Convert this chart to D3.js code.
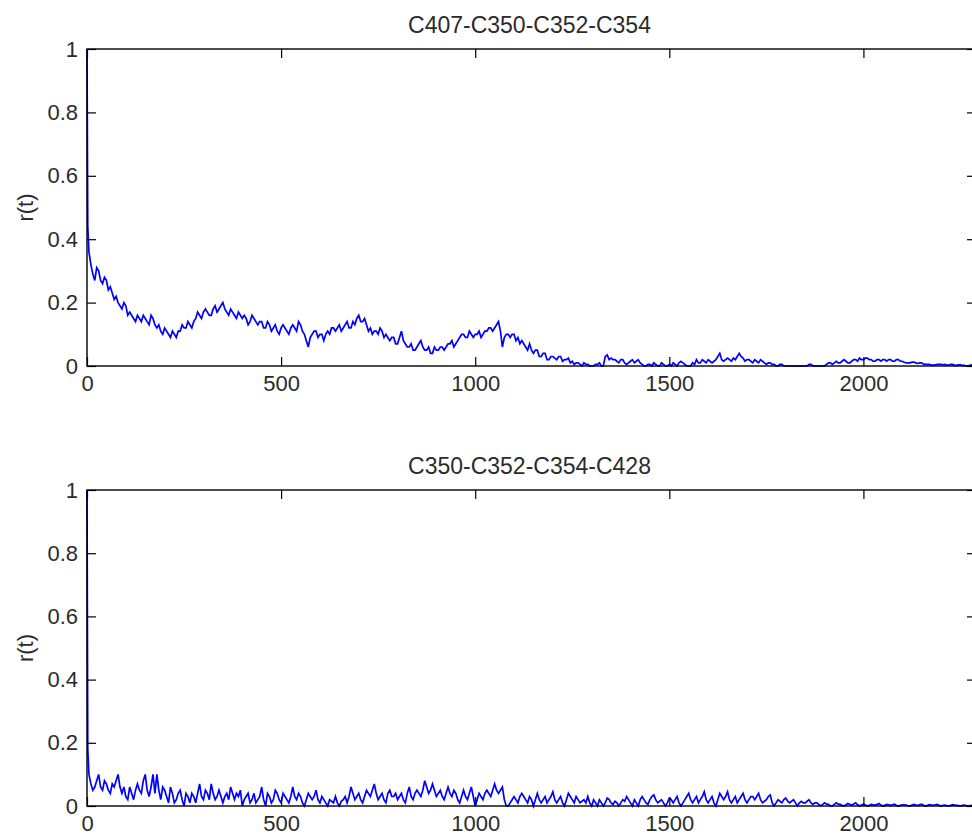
<!DOCTYPE html>
<html>
<head>
<meta charset="utf-8">
<script src="https://cdn.jsdelivr.net/npm/d3@7"></script>
<style>
  body { margin: 0; background: #fff; }
  svg { display: block; font-family: "Liberation Sans", Arial, sans-serif; }
</style>
</head>
<body>
<div id="chart"></div>
<script>
// titles and ticks
const titles = ['C407-C350-C352-C354', 'C350-C352-C354-C428'];
const xTicks = [0, 500, 1000, 1500, 2000];
const yTicks = [0, 0.2, 0.4, 0.6, 0.8, 1];

// first samples, then one value every 5 steps from t=5 to t=2280
const headT = [0, 2];
const headTop = [1.0, 0.44];
const headBottom = [1.0, 0.18];

// one row = 50 steps
const topValues = [
  0.36, 0.32, 0.29, 0.27, 0.31, 0.30, 0.27, 0.26, 0.28, 0.27,
  0.24, 0.25, 0.23, 0.21, 0.22, 0.20, 0.19, 0.18, 0.20, 0.19,
  0.16, 0.17, 0.16, 0.15, 0.14, 0.16, 0.15, 0.14, 0.16, 0.15,
  0.14, 0.13, 0.16, 0.15, 0.13, 0.12, 0.13, 0.11, 0.10, 0.12,
  0.11, 0.10, 0.09, 0.11, 0.10, 0.09, 0.11, 0.11, 0.13, 0.12,
  0.12, 0.14, 0.13, 0.12, 0.14, 0.15, 0.17, 0.16, 0.15, 0.17,
  0.18, 0.17, 0.16, 0.16, 0.18, 0.19, 0.17, 0.18, 0.19, 0.20,
  0.18, 0.17, 0.16, 0.18, 0.17, 0.16, 0.15, 0.17, 0.16, 0.15,
  0.16, 0.15, 0.13, 0.14, 0.16, 0.15, 0.14, 0.13, 0.14, 0.14,
  0.12, 0.12, 0.14, 0.13, 0.11, 0.12, 0.13, 0.11, 0.10, 0.12,
  0.13, 0.12, 0.11, 0.10, 0.12, 0.13, 0.12, 0.11, 0.14, 0.13,
  0.11, 0.10, 0.08, 0.06, 0.09, 0.10, 0.11, 0.11, 0.09, 0.10,
  0.10, 0.08, 0.10, 0.11, 0.10, 0.12, 0.12, 0.11, 0.12, 0.13,
  0.11, 0.12, 0.13, 0.14, 0.12, 0.12, 0.14, 0.13, 0.15, 0.16,
  0.14, 0.14, 0.15, 0.13, 0.11, 0.12, 0.10, 0.11, 0.11, 0.10,
  0.12, 0.11, 0.09, 0.10, 0.09, 0.08, 0.09, 0.09, 0.07, 0.07,
  0.09, 0.11, 0.08, 0.07, 0.06, 0.06, 0.07, 0.05, 0.05, 0.06,
  0.07, 0.08, 0.06, 0.05, 0.05, 0.06, 0.04, 0.04, 0.06, 0.05,
  0.05, 0.06, 0.06, 0.05, 0.06, 0.07, 0.07, 0.08, 0.06, 0.07,
  0.08, 0.09, 0.10, 0.10, 0.09, 0.09, 0.11, 0.10, 0.09, 0.10,
  0.10, 0.11, 0.09, 0.10, 0.11, 0.11, 0.12, 0.12, 0.11, 0.12,
  0.13, 0.14, 0.11, 0.06, 0.09, 0.10, 0.10, 0.09, 0.10, 0.10,
  0.08, 0.09, 0.07, 0.08, 0.07, 0.06, 0.05, 0.07, 0.05, 0.04,
  0.05, 0.05, 0.03, 0.03, 0.04, 0.04, 0.02, 0.02, 0.03, 0.03,
  0.025, 0.02, 0.03, 0.03, 0.015, 0.02, 0.02, 0.025, 0.01, 0.015,
  0.005, 0.01, 0.01, 0.005, 0.0, 0.01, 0.005, 0.005, 0.0, 0.0,
  0.0, 0.005, 0.005, 0.01, 0.0, 0.0, 0.03, 0.035, 0.02, 0.025,
  0.02, 0.02, 0.015, 0.01, 0.02, 0.02, 0.01, 0.005, 0.01, 0.015,
  0.02, 0.01, 0.015, 0.02, 0.01, 0.005, 0.0, 0.0, 0.005, 0.005,
  0.0, 0.01, 0.005, 0.0, 0.0, 0.01, 0.005, 0.0, 0.0, 0.005,
  0.0, 0.01, 0.005, 0.0, 0.01, 0.015, 0.01, 0.005, 0.0, 0.0,
  0.0, 0.01, 0.005, 0.02, 0.01, 0.01, 0.02, 0.015, 0.01, 0.02,
  0.015, 0.01, 0.015, 0.02, 0.03, 0.04, 0.02, 0.015, 0.02, 0.025,
  0.02, 0.015, 0.025, 0.02, 0.03, 0.04, 0.03, 0.025, 0.015, 0.02,
  0.02, 0.015, 0.01, 0.02, 0.015, 0.01, 0.02, 0.015, 0.01, 0.005,
  0.01, 0.01, 0.005, 0.005, 0.0, 0.0, 0.005, 0.005, 0.0, 0.0,
  0.0, 0.0, 0.0, 0.0, 0.0, 0.0, 0.0, 0.0, 0.0, 0.0,
  0.0, 0.005, 0.005, 0.0, 0.0, 0.0, 0.0, 0.0, 0.0, 0.0,
  0.005, 0.01, 0.01, 0.005, 0.01, 0.015, 0.01, 0.01, 0.015, 0.02,
  0.015, 0.01, 0.01, 0.015, 0.02, 0.02, 0.015, 0.025, 0.02, 0.02,
  0.025, 0.025, 0.02, 0.02, 0.015, 0.015, 0.02, 0.02, 0.015, 0.02,
  0.02, 0.015, 0.02, 0.02, 0.015, 0.015, 0.02, 0.02, 0.015, 0.015,
  0.012, 0.01, 0.01, 0.01, 0.012, 0.012, 0.01, 0.008, 0.01, 0.01,
  0.006, 0.005, 0.005, 0.005, 0.003, 0.003, 0.004, 0.005, 0.005, 0.005,
  0.004, 0.005, 0.003, 0.003, 0.005, 0.005, 0.002, 0.002, 0.004, 0.004,
  0.002, 0.002, 0.0, 0.0, 0.003, 0.003
];

const bottomValues = [
  0.10, 0.07, 0.05, 0.06, 0.08, 0.10, 0.06, 0.05, 0.08, 0.07,
  0.05, 0.04, 0.07, 0.06, 0.08, 0.10, 0.06, 0.04, 0.06, 0.03,
  0.02, 0.06, 0.04, 0.02, 0.05, 0.07, 0.05, 0.04, 0.08, 0.10,
  0.05, 0.03, 0.06, 0.10, 0.04, 0.10, 0.05, 0.02, 0.06, 0.05,
  0.03, 0.01, 0.06, 0.04, 0.01, 0.02, 0.04, 0.05, 0.02, 0.0,
  0.04, 0.03, 0.01, 0.04, 0.03, 0.01, 0.04, 0.07, 0.03, 0.02,
  0.05, 0.04, 0.02, 0.07, 0.04, 0.02, 0.03, 0.05, 0.03, 0.01,
  0.03, 0.04, 0.02, 0.06, 0.04, 0.02, 0.04, 0.03, 0.05, 0.0,
  0.02, 0.03, 0.04, 0.01, 0.02, 0.04, 0.01, 0.02, 0.03, 0.06,
  0.02, 0.0, 0.04, 0.03, 0.01, 0.02, 0.05, 0.04, 0.02, 0.01,
  0.04, 0.03, 0.02, 0.01, 0.03, 0.06, 0.03, 0.02, 0.04, 0.03,
  0.01, 0.0, 0.02, 0.04, 0.03, 0.02, 0.03, 0.05, 0.02, 0.01,
  0.03, 0.02, 0.01, 0.0, 0.02, 0.015, 0.01, 0.03, 0.01, 0.0,
  0.015, 0.02, 0.03, 0.01, 0.03, 0.06, 0.04, 0.02, 0.03, 0.04,
  0.02, 0.01, 0.03, 0.05, 0.04, 0.03, 0.05, 0.07, 0.04, 0.02,
  0.03, 0.04, 0.02, 0.01, 0.04, 0.05, 0.03, 0.03, 0.04, 0.02,
  0.03, 0.04, 0.02, 0.01, 0.04, 0.06, 0.03, 0.02, 0.04, 0.05,
  0.04, 0.03, 0.05, 0.08, 0.06, 0.04, 0.05, 0.07, 0.05, 0.03,
  0.04, 0.05, 0.03, 0.02, 0.04, 0.06, 0.04, 0.03, 0.05, 0.04,
  0.02, 0.01, 0.03, 0.05, 0.03, 0.02, 0.04, 0.06, 0.03, 0.0,
  0.02, 0.04, 0.03, 0.02, 0.04, 0.05, 0.04, 0.03, 0.05, 0.07,
  0.05, 0.04, 0.05, 0.06, 0.02, 0.0, 0.0, 0.01, 0.02, 0.03,
  0.02, 0.01, 0.03, 0.04, 0.03, 0.02, 0.01, 0.03, 0.02, 0.0,
  0.02, 0.04, 0.02, 0.01, 0.02, 0.03, 0.01, 0.02, 0.03, 0.045,
  0.02, 0.01, 0.02, 0.03, 0.01, 0.0, 0.02, 0.04, 0.03, 0.02,
  0.01, 0.03, 0.02, 0.01, 0.015, 0.02, 0.01, 0.03, 0.01, 0.0,
  0.02, 0.01, 0.0, 0.02, 0.01, 0.0, 0.01, 0.025, 0.02, 0.01,
  0.005, 0.015, 0.01, 0.0, 0.01, 0.02, 0.015, 0.03, 0.02, 0.01,
  0.0, 0.02, 0.01, 0.0, 0.02, 0.03, 0.02, 0.01, 0.005, 0.02,
  0.03, 0.035, 0.02, 0.01, 0.015, 0.02, 0.01, 0.0, 0.01, 0.025,
  0.02, 0.01, 0.02, 0.03, 0.01, 0.0, 0.01, 0.02, 0.03, 0.04,
  0.02, 0.01, 0.02, 0.03, 0.01, 0.02, 0.03, 0.045, 0.02, 0.01,
  0.02, 0.03, 0.01, 0.0, 0.02, 0.04, 0.03, 0.02, 0.03, 0.045,
  0.02, 0.01, 0.02, 0.03, 0.01, 0.02, 0.03, 0.04, 0.02, 0.01,
  0.02, 0.03, 0.03, 0.02, 0.03, 0.04, 0.02, 0.01, 0.015, 0.02,
  0.03, 0.035, 0.01, 0.0, 0.01, 0.02, 0.015, 0.01, 0.02, 0.025,
  0.015, 0.01, 0.015, 0.02, 0.01, 0.0, 0.01, 0.015, 0.01, 0.01,
  0.015, 0.02, 0.01, 0.005, 0.01, 0.01, 0.005, 0.0, 0.005, 0.01,
  0.006, 0.005, 0.0, 0.0, 0.005, 0.01, 0.006, 0.005, 0.002, 0.0,
  0.004, 0.008, 0.005, 0.003, 0.006, 0.01, 0.004, 0.0, 0.003, 0.006,
  0.003, 0.0, 0.002, 0.005, 0.004, 0.003, 0.005, 0.008, 0.003, 0.0,
  0.002, 0.005, 0.004, 0.002, 0.004, 0.006, 0.002, 0.0, 0.002, 0.004,
  0.004, 0.003, 0.001, 0.0, 0.003, 0.005, 0.003, 0.002, 0.004, 0.006,
  0.002, 0.0, 0.002, 0.004, 0.003, 0.002, 0.004, 0.005, 0.002, 0.0,
  0.002, 0.003, 0.001, 0.0, 0.002, 0.004, 0.003, 0.002, 0.001, 0.0,
  0.002, 0.003, 0.001, 0.0, 0.001, 0.002
];

const stepT = d3.range(5, 2285, 5);

function series(head, vals) {
  const t = headT.concat(stepT);
  const v = head.concat(vals);
  return t.slice(0, v.length).map((d, i) => ({ t: d, v: v[i] }));
}

const panels = [
  { title: titles[0], data: series(headTop, topValues), top: 49, bottom: 366 },
  { title: titles[1], data: series(headBottom, bottomValues), top: 490, bottom: 806 }
];

const W = 972, H = 836;
const left = 87, right = 976;
const fs = 22, txt = '#2b2b2b';

const svg = d3.select('#chart').append('svg').attr('width', W).attr('height', H);

const x = d3.scaleLinear().domain([0, 2290]).range([left, right]);

panels.forEach((p) => {
  const y = d3.scaleLinear().domain([0, 1]).range([p.bottom, p.top]);
  const g = svg.append('g');

  // the curve
  const line = d3.line().x((d) => x(d.t)).y((d) => y(d.v));
  g.append('path')
    .datum(p.data)
    .attr('fill', 'none')
    .attr('stroke', '#0000ff')
    .attr('stroke-width', 1.7)
    .attr('d', line);

  // ticks point inwards on all four sides
  g.append('g')
    .attr('transform', `translate(0,${p.bottom})`)
    .call(d3.axisBottom(x).tickValues(xTicks).tickSize(-9).tickPadding(9).tickFormat(d3.format('d')).tickSizeOuter(0))
    .call((a) => a.select('.domain').remove());
  g.append('g')
    .attr('transform', `translate(0,${p.top})`)
    .call(d3.axisTop(x).tickValues(xTicks).tickSize(-9).tickFormat('').tickSizeOuter(0))
    .call((a) => a.select('.domain').remove());
  g.append('g')
    .attr('transform', `translate(${left},0)`)
    .call(d3.axisLeft(y).tickValues(yTicks).tickSize(-9).tickPadding(9).tickFormat(d3.format('~g')).tickSizeOuter(0))
    .call((a) => a.select('.domain').remove());
  g.append('g')
    .attr('transform', `translate(${right},0)`)
    .call(d3.axisRight(y).tickValues(yTicks).tickSize(-9).tickFormat('').tickSizeOuter(0))
    .call((a) => a.select('.domain').remove());

  g.selectAll('.tick line').attr('stroke', '#000').attr('stroke-width', 1.2);
  g.selectAll('.tick text').attr('font-size', fs).attr('font-family', null).attr('fill', txt);

  g.append('rect')
    .attr('x', left)
    .attr('y', p.top)
    .attr('width', right - left)
    .attr('height', p.bottom - p.top)
    .attr('fill', 'none')
    .attr('stroke', '#000')
    .attr('stroke-width', 1.4);

  g.append('text')
    .attr('x', (left + right) / 2 - 2)
    .attr('y', p.top - 16)
    .attr('text-anchor', 'middle')
    .attr('font-size', 23)
    .attr('fill', txt)
    .text(p.title);

  g.append('text')
    .attr('transform', `translate(33,${(p.top + p.bottom) / 2}) rotate(-90)`)
    .attr('text-anchor', 'middle')
    .attr('font-size', fs)
    .attr('fill', txt)
    .text('r(t)');
});
</script>
</body>
</html>
